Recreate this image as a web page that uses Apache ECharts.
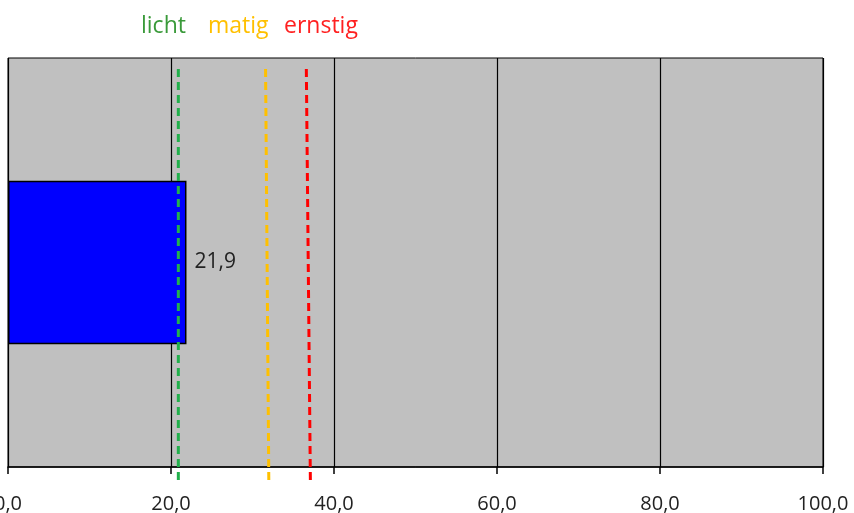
<!DOCTYPE html>
<html><head><meta charset="utf-8">
<script src="https://cdn.jsdelivr.net/npm/echarts@6/dist/echarts.min.js"></script>
<style>html,body{margin:0;padding:0;background:#fff}#c{width:854px;height:513px}</style>
</head><body><div id="c"></div>
<script>
var categories = ['score'];
var barValues = [21.9];
var thresholdNames = ['licht', 'matig', 'ernstig'];
var thresholdColors = ['#22b04c', '#ffc000', '#ff0000'];
var thresholdTextColors = ['#3a9a3a', '#ffc000', '#ff2020'];
// [x at bottom, x at top] for each threshold line
var thresholdX = [[20.9, 20.9], [32.0, 31.6], [37.1, 36.6]];
var xTicks = [0, 20, 40, 60, 80, 100];

var fmt = function (v) { return v.toFixed(1).replace('.', ','); };
var font = '"Open Sans", sans-serif';
var titleLeft = [136, 203, 279];

var lineSeries = thresholdX.map(function (p, i) {
  return {
    type: 'line', xAxisIndex: 0, yAxisIndex: 1, clip: false, silent: true,
    symbol: 'none', name: thresholdNames[i],
    data: [[p[0], -0.032], [p[1], 0.983]],
    lineStyle: { color: thresholdColors[i], width: 3, type: [8, 5] },
    z: 5
  };
});

var titles = thresholdNames.map(function (n, i) {
  return {
    text: n, left: titleLeft[i], top: 10,
    textStyle: { color: thresholdTextColors[i], fontSize: 23, fontWeight: 'normal', fontFamily: font }
  };
});

var chart = echarts.init(document.getElementById('c'));
chart.setOption({
  animation: false,
  title: titles,
  grid: {
    left: 8, right: 31, top: 58, bottom: 46, outerBoundsMode: 'none', containLabel: false,
    show: true, backgroundColor: '#c0c0c0', borderColor: '#000', borderWidth: 1
  },
  xAxis: [{
    type: 'value', min: 0, max: 100, interval: 20,
    axisLine: { show: true, lineStyle: { color: '#000', width: 1.5 } },
    axisTick: { show: true, length: 7, lineStyle: { color: '#000', width: 1.5 } },
    splitLine: { show: true, lineStyle: { color: '#000', width: 1.2 } },
    axisLabel: { formatter: fmt, color: '#222', fontSize: 20, fontFamily: font, margin: 27 }
  }],
  yAxis: [{
    type: 'category', data: categories,
    axisLine: { show: false }, axisTick: { show: false }, axisLabel: { show: false }
  }, {
    type: 'value', min: 0, max: 1, show: false
  }],
  series: [{
    type: 'bar', data: barValues, barWidth: '40%', xAxisIndex: 0, yAxisIndex: 0,
    itemStyle: { color: '#0000ff', borderColor: '#000', borderWidth: 1.5 },
    label: { show: true, position: 'right', formatter: function (p) { return fmt(p.value); },
      color: '#222', fontSize: 21, fontFamily: font, distance: 8 },
    z: 3
  }].concat(lineSeries)
});
</script></body></html>
